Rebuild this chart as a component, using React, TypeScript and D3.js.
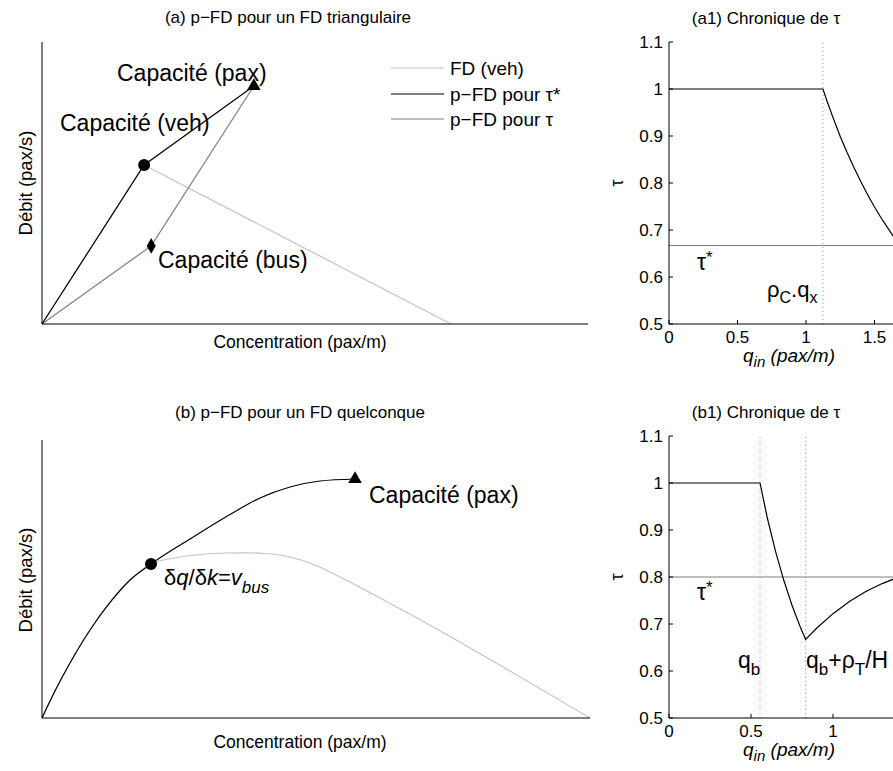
import React from 'react';
import * as d3 from 'd3';

const W = 893;
const H = 771;
const FONT = '"Liberation Sans", Arial, Helvetica, sans-serif';

// ---------- Panel (a): triangular FD ----------
const fdVeh_k = [0, 0.187, 0.749];
const fdVeh_q = [0, 0.564, 0];
const pfdStar_k = [0, 0.187, 0.388];
const pfdStar_q = [0, 0.564, 0.844];
const pfdTau_k = [0, 0.2, 0.388];
const pfdTau_q = [0, 0.277, 0.844];
const legendLabels = ['FD (veh)', 'p\u2212FD pour \u03c4*', 'p\u2212FD pour \u03c4'];

// ---------- Panel (b): generic FD ----------
const pfdB_k = [0, 0.0255, 0.0511, 0.0876, 0.1241, 0.1606, 0.1989, 0.2701, 0.3431, 0.3978, 0.4526, 0.5073, 0.5712];
const pfdB_q = [0, 0.1043, 0.1978, 0.3165, 0.4155, 0.4964, 0.554, 0.6439, 0.732, 0.7914, 0.8309, 0.8525, 0.8597];
const fdB_k = [0, 0.0255, 0.0511, 0.0876, 0.1241, 0.1606, 0.1989, 0.2427, 0.2883, 0.3339, 0.3704, 0.4069, 0.4526, 0.4982, 0.5438, 0.5894, 1.0];
const fdB_q = [0, 0.1043, 0.1978, 0.3165, 0.4155, 0.4964, 0.554, 0.5755, 0.5881, 0.5935, 0.5942, 0.5917, 0.5791, 0.5504, 0.5072, 0.4604, 0];

// ---------- Panel (a1) ----------
const a1_q = [0, 1.124, 1.15, 1.2, 1.25, 1.3, 1.35, 1.4, 1.45, 1.5, 1.55, 1.6, 1.65, 1.7];
const a1_tau = [1, 1, 0.977, 0.937, 0.899, 0.865, 0.833, 0.803, 0.775, 0.749, 0.725, 0.703, 0.681, 0.661];
const a1_tauStar = 0.667;
const a1_marks = [1.124];

// ---------- Panel (b1) ----------
const b1_q = [0, 0.555, 0.6, 0.65, 0.7, 0.75, 0.8, 0.833, 0.9, 1.0, 1.1, 1.2, 1.3, 1.4, 1.5];
const b1_tau = [1, 1, 0.925, 0.854, 0.793, 0.74, 0.694, 0.667, 0.691, 0.722, 0.748, 0.769, 0.786, 0.8, 0.815];
const b1_tauStar = 0.8;
const b1_marks = [0.555, 0.833];

const tauTicks = [0.5, 0.6, 0.7, 0.8, 0.9, 1, 1.1];
const tauTickLabels = ['0.5', '0.6', '0.7', '0.8', '0.9', '1', '1.1'];
const qTicks = [0, 0.5, 1, 1.5, 2];
const qTickLabels = ['0', '0.5', '1', '1.5', '2'];

const LIGHT = '#c4c4c4';
const MID = '#7f7f7f';

function zip(a: number[], b: number[]): [number, number][] {
  return a.map((v, i) => [v, b[i]]);
}

function TauPanel(props: {
  top: number; bottom: number; left: number; right: number; qMax: number;
  qs: number[]; taus: number[]; tauStar: number; marks: number[]; title: string;
  children?: React.ReactNode;
}) {
  const { top, bottom, left, right, qMax, qs, taus, tauStar, marks, title } = props;
  const x = d3.scaleLinear().domain([0, qMax]).range([left, right]);
  const y = d3.scaleLinear().domain([0.5, 1.1]).range([bottom, top]);
  const line = d3.line<[number, number]>().x(d => x(d[0])).y(d => y(d[1]));
  return (
    <g>
      <text x={766} y={top - 18} textAnchor="middle" fontSize={17}>{title}</text>
      {marks.map((m, i) => (
        <line key={'m' + i} x1={x(m)} x2={x(m)} y1={y(0.5)} y2={y(1.1)} stroke="#999" strokeWidth={1} strokeDasharray="1 3" />
      ))}
      <line x1={x(0)} x2={x(qMax)} y1={y(tauStar)} y2={y(tauStar)} stroke={MID} strokeWidth={1.2} />
      <path d={line(zip(qs, taus)) || ''} fill="none" stroke="#000" strokeWidth={1.2} />
      <line x1={left} x2={left} y1={top} y2={bottom} stroke="#000" strokeWidth={1} />
      <line x1={left} x2={right} y1={bottom} y2={bottom} stroke="#000" strokeWidth={1} />
      {tauTicks.map((t, i) => (
        <g key={'yt' + i}>
          <line x1={left} x2={left + 4} y1={y(t)} y2={y(t)} stroke="#000" />
          <text x={left - 6} y={y(t) + 6} textAnchor="end" fontSize={17}>{tauTickLabels[i]}</text>
        </g>
      ))}
      {qTicks.filter(t => t <= qMax).map((t, i) => (
        <g key={'xt' + i}>
          <line x1={x(t)} x2={x(t)} y1={bottom} y2={bottom - 4} stroke="#000" />
          <text x={x(t)} y={bottom + 19} textAnchor="middle" fontSize={17}>{qTickLabels[i]}</text>
        </g>
      ))}
      <text transform={`translate(${left - 46},${(top + bottom) / 2}) rotate(-90)`} textAnchor="middle" fontSize={18}>{'\u03c4'}</text>
      <text x={789} y={bottom + 38} textAnchor="middle" fontSize={19} fontStyle="italic">
        q<tspan fontSize={15} dy={5}>in</tspan><tspan dy={-5}> (pax/m)</tspan>
      </text>
      {props.children}
    </g>
  );
}

export default function App() {
  // Panel (a) scales
  const xa = d3.scaleLinear().domain([0, 1]).range([42, 588]);
  const ya = d3.scaleLinear().domain([0, 1]).range([324, 42]);
  const la = d3.line<[number, number]>().x(d => xa(d[0])).y(d => ya(d[1]));

  // Panel (b) scales
  const xb = d3.scaleLinear().domain([0, 1]).range([42, 590]);
  const yb = d3.scaleLinear().domain([0, 1]).range([718, 440]);
  const lb = d3.line<[number, number]>().x(d => xb(d[0])).y(d => yb(d[1])).curve(d3.curveMonotoneX);

  const tri = d3.symbol(d3.symbolTriangle, 80)() || '';
  const dia = d3.symbol(d3.symbolDiamond, 70)() || '';

  const legendY = [68, 94, 119];
  const legendColors = [LIGHT, '#000', MID];

  return (
    <svg width={W} height={H} style={{ position: 'absolute', left: 0, top: 0, background: '#fff' }} fontFamily={FONT}>
      <rect x={0} y={0} width={W} height={H} fill="#fff" />

      {/* ---------------- Panel (a) ---------------- */}
      <text x={288} y={23} textAnchor="middle" fontSize={17}>(a) p{'\u2212'}FD pour un FD triangulaire</text>
      <path d={la(zip(fdVeh_k, fdVeh_q)) || ''} fill="none" stroke={LIGHT} strokeWidth={1.2} />
      <path d={la(zip(pfdTau_k, pfdTau_q)) || ''} fill="none" stroke={MID} strokeWidth={1.2} />
      <path d={la(zip(pfdStar_k, pfdStar_q)) || ''} fill="none" stroke="#000" strokeWidth={1.2} />
      <circle cx={xa(pfdStar_k[1])} cy={ya(pfdStar_q[1])} r={6} fill="#000" />
      <path d={tri} transform={`translate(${xa(pfdStar_k[2])},${ya(pfdStar_q[2])})`} fill="#000" />
      <path d={dia} transform={`translate(${xa(pfdTau_k[1])},${ya(pfdTau_q[1])})`} fill="#000" />
      <line x1={42} x2={42} y1={42} y2={324} stroke="#000" />
      <line x1={42} x2={588} y1={324} y2={324} stroke="#000" />
      <text x={117} y={81} fontSize={23}>Capacité (pax)</text>
      <text x={60} y={131} fontSize={23}>Capacité (veh)</text>
      <text x={158} y={268} fontSize={23}>Capacité (bus)</text>
      {legendLabels.map((lab, i) => (
        <g key={'lg' + i}>
          <line x1={391} x2={444} y1={legendY[i]} y2={legendY[i]} stroke={legendColors[i]} strokeWidth={1.2} />
          <text x={450} y={legendY[i] + 7} fontSize={19}>{lab}</text>
        </g>
      ))}
      <text x={300} y={348} textAnchor="middle" fontSize={17.5}>Concentration (pax/m)</text>
      <text transform="translate(32,183) rotate(-90)" textAnchor="middle" fontSize={18.5}>Débit (pax/s)</text>

      {/* ---------------- Panel (b) ---------------- */}
      <text x={300} y={418} textAnchor="middle" fontSize={17}>(b) p{'\u2212'}FD pour un FD quelconque</text>
      <path d={lb(zip(fdB_k, fdB_q)) || ''} fill="none" stroke={LIGHT} strokeWidth={1.2} />
      <path d={lb(zip(pfdB_k, pfdB_q)) || ''} fill="none" stroke="#000" strokeWidth={1.2} />
      <circle cx={xb(pfdB_k[6])} cy={yb(pfdB_q[6])} r={6} fill="#000" />
      <path d={tri} transform={`translate(${xb(pfdB_k[pfdB_k.length - 1])},${yb(pfdB_q[pfdB_q.length - 1])})`} fill="#000" />
      <line x1={42} x2={42} y1={440} y2={718} stroke="#000" />
      <line x1={42} x2={590} y1={718} y2={718} stroke="#000" />
      <text x={369} y={503} fontSize={23}>Capacité (pax)</text>
      <text x={164} y={585} fontSize={22}>
        {'\u03b4'}<tspan fontStyle="italic">q</tspan>/{'\u03b4'}<tspan fontStyle="italic">k</tspan>=<tspan fontStyle="italic">v</tspan>
        <tspan fontStyle="italic" fontSize={17} dy={8}>bus</tspan>
      </text>
      <text x={300} y={748} textAnchor="middle" fontSize={17.5}>Concentration (pax/m)</text>
      <text transform="translate(32,580) rotate(-90)" textAnchor="middle" fontSize={18.5}>Débit (pax/s)</text>

      {/* ---------------- Panel (a1) ---------------- */}
      <TauPanel top={42} bottom={324} left={669} right={943} qMax={2}
        qs={a1_q} taus={a1_tau} tauStar={a1_tauStar} marks={a1_marks}
        title={'(a1) Chronique de \u03c4'}>
        <text x={697} y={270} fontSize={23}>{'\u03c4'}<tspan fontSize={17} dy={-7}>*</tspan></text>
        <text x={767} y={297} fontSize={22}>{'\u03c1'}<tspan fontSize={16} dy={6}>C</tspan><tspan dy={-6}>.q</tspan><tspan fontSize={16} dy={6}>x</tspan></text>
      </TauPanel>

      {/* ---------------- Panel (b1) ---------------- */}
      <TauPanel top={436} bottom={718} left={669} right={915} qMax={1.5}
        qs={b1_q} taus={b1_tau} tauStar={b1_tauStar} marks={b1_marks}
        title={'(b1) Chronique de \u03c4'}>
        <text x={697} y={600} fontSize={23}>{'\u03c4'}<tspan fontSize={17} dy={-7}>*</tspan></text>
        <text x={738} y={668} fontSize={23}>q<tspan fontSize={17} dy={7}>b</tspan></text>
        <text x={806} y={668} fontSize={23}>q<tspan fontSize={17} dy={7}>b</tspan><tspan dy={-7}>+{'\u03c1'}</tspan><tspan fontSize={17} dy={7}>T</tspan><tspan dy={-7}>/H</tspan></text>
      </TauPanel>
    </svg>
  );
}
